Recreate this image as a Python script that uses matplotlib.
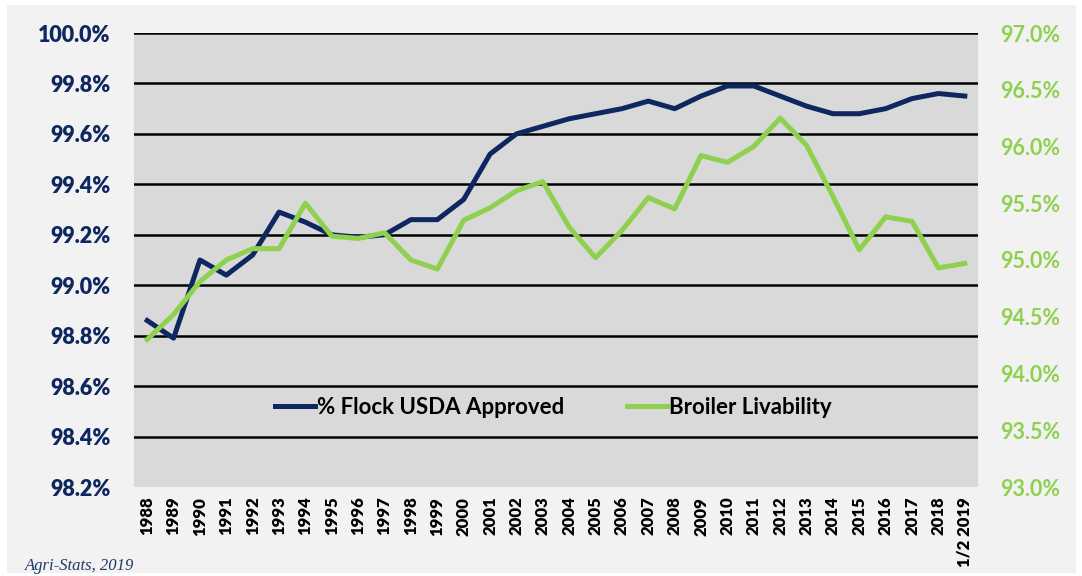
import matplotlib
matplotlib.use("Agg")
import matplotlib.pyplot as plt
from matplotlib.patches import Rectangle
import numpy as np

years = [str(y) for y in range(1988, 2019)] + ["1/2 2019"]
usda_approved = [98.86, 98.79, 99.10, 99.04, 99.12, 99.29, 99.25, 99.20, 99.19, 99.20,
                 99.26, 99.26, 99.34, 99.52, 99.60, 99.63, 99.66, 99.68, 99.70, 99.73,
                 99.70, 99.75, 99.79, 99.79, 99.75, 99.71, 99.68, 99.68, 99.70, 99.74,
                 99.76, 99.75]
livability = [94.30, 94.52, 94.81, 95.00, 95.10, 95.10, 95.50, 95.21, 95.19, 95.24,
              95.00, 94.92, 95.35, 95.46, 95.61, 95.69, 95.29, 95.02, 95.26, 95.55,
              95.45, 95.92, 95.86, 96.00, 96.25, 96.01, 95.56, 95.09, 95.38, 95.34,
              94.93, 94.97]
left_ticks = [98.2, 98.4, 98.6, 98.8, 99.0, 99.2, 99.4, 99.6, 99.8, 100.0]
right_ticks = [93.0, 93.5, 94.0, 94.5, 95.0, 95.5, 96.0, 96.5, 97.0]

NAVY = "#0f2760"
GREEN = "#8fd14f"
FONT = "Lato"

W, H = 1082, 576
fig = plt.figure(figsize=(W / 100, H / 100), dpi=100, facecolor="white")
bg = Rectangle((7 / W, 3 / H), (1076 - 7) / W, (571 - 3) / H,
               transform=fig.transFigure, facecolor="#f2f2f2",
               edgecolor="none", zorder=-10)
fig.add_artist(bg)

ax = fig.add_axes([134 / W, 89 / H, 844 / W, 454 / H])
ax.set_facecolor("#d9d9d9")
x = np.arange(len(years))
l1, = ax.plot(x, usda_approved, color=NAVY, lw=3.6, solid_joinstyle="round",
              label="% Flock USDA Approved", zorder=3)
ax.set_xlim(-0.5, len(years) - 0.5)
ax.set_ylim(98.2, 100.0)
ax.set_yticks(left_ticks)
ax.set_yticklabels([f"{v:.1f}%" for v in left_ticks], fontsize=15.5,
                   fontweight="heavy", color=NAVY, family=FONT)
ax.set_xticks(x)
ax.set_xticklabels(years, rotation=90, fontsize=12, fontweight="heavy",
                   family=FONT, color="black")
ax.tick_params(axis="both", length=0)
ax.tick_params(axis="y", pad=17)
ax.tick_params(axis="x", pad=7)
for s in ax.spines.values():
    s.set_visible(False)
for v in left_ticks[1:]:
    ax.axhline(v, color="black", lw=1.8, zorder=1)

ax2 = ax.twinx()
l2, = ax2.plot(x, livability, color=GREEN, lw=3.6, solid_joinstyle="round",
               label="Broiler Livability", zorder=3)
ax2.set_ylim(93.0, 97.0)
ax2.set_yticks(right_ticks)
ax2.set_yticklabels([f"{v:.1f}%" for v in right_ticks], fontsize=15.5,
                    fontweight="bold", color=GREEN, family=FONT)
ax2.tick_params(axis="y", length=0, pad=16)
for s in ax2.spines.values():
    s.set_visible(False)

leg = ax2.legend(handles=[l1, l2], loc="center", bbox_to_anchor=(0.497, 0.176),
                 ncol=2, frameon=False, handlelength=1.8, handletextpad=0.1,
                 columnspacing=2.8, prop={"family": FONT, "weight": "bold", "size": 16})

fig.text(25 / W, 1 - 566 / H, "Agri-Stats, 2019", family="Liberation Serif",
         style="italic", fontsize=12, color="#1f3864", va="center", ha="left")

fig.savefig("out.png", dpi=100, facecolor=fig.get_facecolor())
